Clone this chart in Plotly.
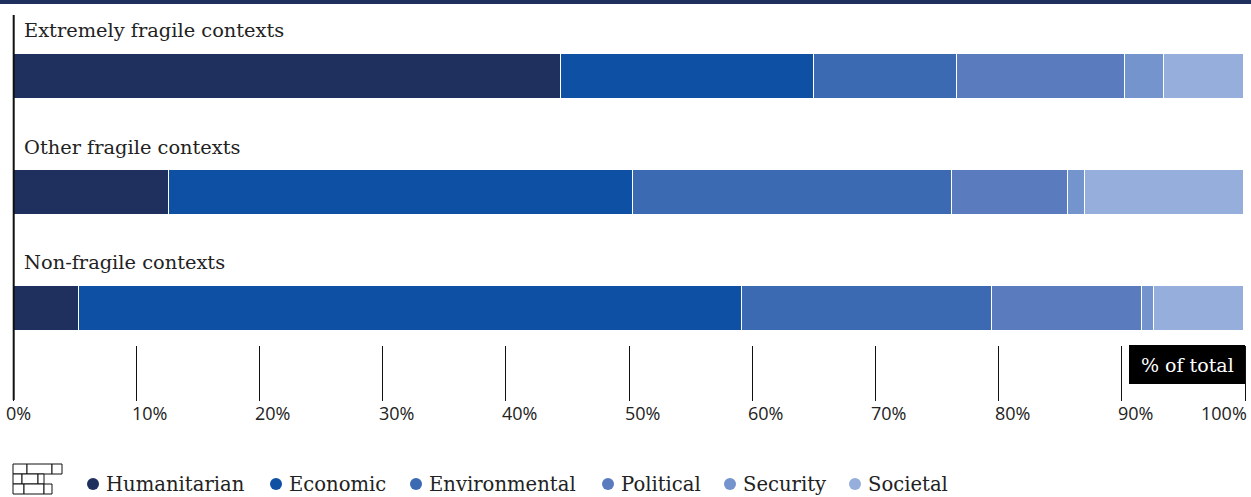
import plotly.graph_objects as go

categories = ["Extremely fragile contexts", "Other fragile contexts", "Non-fragile contexts"]
humanitarian = [44.4, 12.6, 5.3]
economic = [20.6, 37.7, 53.8]
environmental = [11.6, 25.9, 20.3]
political = [13.6, 9.4, 12.2]
security = [3.2, 1.4, 1.0]
societal = [6.5, 12.9, 7.3]
tick_values = [0, 10, 20, 30, 40, 50, 60, 70, 80, 90, 100]
tick_labels = ["0%", "10%", "20%", "30%", "40%", "50%", "60%", "70%", "80%", "90%", "100%"]
series_names = ["Humanitarian", "Economic", "Environmental", "Political", "Security", "Societal"]

colors = ["#1f305f", "#0e50a3", "#3b6ab3", "#5a7bbd", "#7394cc", "#96aedc"]
series = [humanitarian, economic, environmental, political, security, societal]
SERIF = "DejaVu Serif"
SANS = "Open Sans"
L, R, T, B = 13, 1245, 15, 345


def px(x):
    return (x - L) / (R - L)


def py(y):
    return (B - y) / (B - T)


fig = go.Figure()
for name, vals, c in zip(series_names, series, colors):
    fig.add_bar(y=categories, x=vals, name=name, orientation="h", width=0.39,
                marker=dict(color=c, line=dict(color="white", width=1)), showlegend=False)

annotations = []
for cat, yy in zip(categories, [31, 147, 262]):
    annotations.append(dict(text=cat, xref="paper", yref="paper", x=px(22), y=py(yy), xanchor="left",
                            yanchor="middle", showarrow=False, font=dict(family=SERIF, size=19.4, color="#222")))
for v, t in zip(tick_values, tick_labels):
    last = v == 100
    shift = 4 if last else (-9 if v == 0 else -6)
    annotations.append(dict(text=t, xref="x", yref="paper", x=v, y=py(412.5), xanchor="right" if last else "left",
                            xshift=shift, yanchor="middle", showarrow=False,
                            font=dict(family=SANS, size=18, color="#222")))
annotations.append(dict(text="% of total", xref="paper", yref="paper", x=px(1187), y=py(365), xanchor="center",
                        yanchor="middle", showarrow=False, font=dict(family=SERIF, size=19, color="white")))
dot_x = [93, 276, 416, 608, 730, 855]
for name, c, dx in zip(series_names, colors, dot_x):
    annotations.append(dict(text=name, xref="paper", yref="paper", x=px(dx + 11), y=py(484), xanchor="left",
                            yanchor="middle", showarrow=False, font=dict(family=SERIF, size=19.6, color="#222")))

shapes = [
    dict(type="rect", xref="paper", yref="paper", x0=px(0), x1=px(1251), y0=py(0), y1=py(4),
         fillcolor="#1f305f", line_width=0),
    dict(type="line", xref="paper", yref="paper", x0=px(13.7), x1=px(13.7), y0=py(15), y1=py(400),
         line=dict(color="#111", width=2)),
    dict(type="rect", xref="paper", yref="paper", x0=px(1129), x1=px(1245), y0=py(345), y1=py(384),
         fillcolor="black", line_width=0),
]
for c, dx in zip(colors, dot_x):
    shapes.append(dict(type="circle", xref="paper", yref="paper", x0=px(dx - 6), x1=px(dx + 6),
                       y0=py(490), y1=py(478), fillcolor=c, line_width=0))
for x0, y0, x1, y1 in [(13, 464, 27, 474), (27, 464, 52, 474), (52, 464, 62, 474),
                       (13, 474, 22, 484), (22, 474, 38, 484), (38, 474, 44, 484),
                       (13, 484, 24, 494), (24, 484, 44, 494), (44, 484, 52, 494)]:
    shapes.append(dict(type="rect", xref="paper", yref="paper", x0=px(x0), x1=px(x1), y0=py(y0), y1=py(y1),
                       line=dict(color="#111", width=1), fillcolor="white"))

fig.update_layout(
    barmode="stack", width=1251, height=497, paper_bgcolor="white", plot_bgcolor="white",
    margin=dict(l=L, r=1251 - R, t=T, b=497 - B), showlegend=False,
    annotations=annotations, shapes=shapes,
    xaxis=dict(range=[0, 100], tickvals=tick_values, ticks="outside", ticklen=55, tickwidth=1, tickcolor="#111",
               showticklabels=False, showgrid=False, zeroline=False),
    yaxis=dict(categoryorder="array", categoryarray=categories, range=[2.32, -0.526], showticklabels=False,
               showgrid=False, zeroline=False, showline=False, ticks=""),
)
fig.write_html("out.html", post_script="document.body.style.margin='0';", config={"displayModeBar": False})
